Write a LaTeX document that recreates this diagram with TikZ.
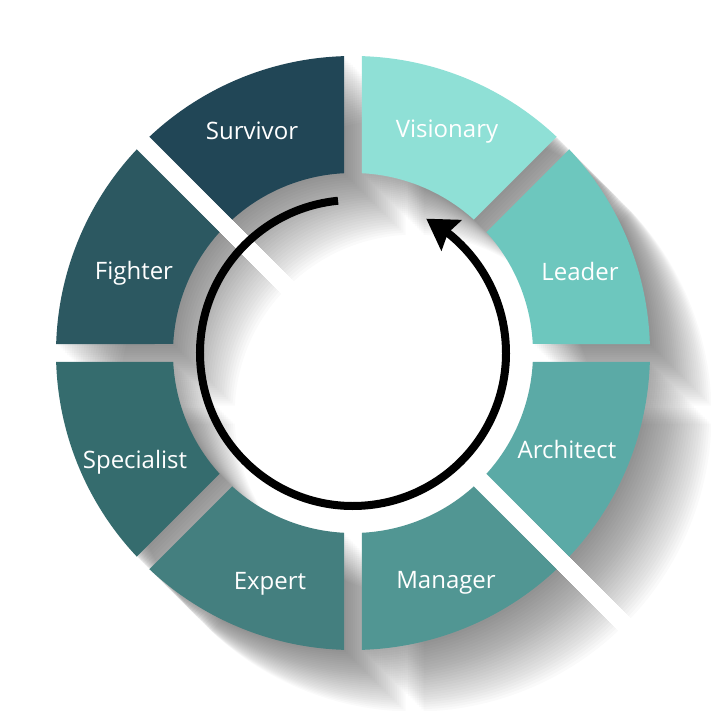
\documentclass[tikz,border=0pt]{standalone}
\usepackage{fontspec}
\setmainfont{Open Sans}
\usetikzlibrary{arrows.meta,bending}
\definecolor{cVis}{HTML}{8FE0D6}
\definecolor{cLea}{HTML}{6DC7BE}
\definecolor{cArc}{HTML}{5BAAA6}
\definecolor{cMan}{HTML}{519693}
\definecolor{cExp}{HTML}{447F7F}
\definecolor{cSpe}{HTML}{356C6E}
\definecolor{cFig}{HTML}{2C5861}
\definecolor{cSur}{HTML}{214656}
\newcommand\ringseg[2]{%
  \fill[#2] ({#1+1.736}:297) arc[start angle={#1+1.736}, end angle={#1+45-1.736}, radius=297]
    -- ({#1+45-2.866}:180) arc[start angle={#1+45-2.866}, end angle={#1+2.866}, radius=180] -- cycle;}
\tikzset{
  lbl/.style={text=white, font=\fontsize{24}{28}\selectfont, anchor=base, inner sep=0pt},
  cyclearrow/.style={line width=8pt, draw=black, -{Stealth[length=30pt,width=36pt,inset=4pt,flex]}}
}
\begin{document}
\begin{tikzpicture}[x=1pt,y=1pt]
\useasboundingbox (-353,-358) rectangle (358,353);
% long shadows
\foreach \k in {1,...,28}{
  \foreach \a in {-90,-45,...,225}{
    \ringseg{\a}{black,fill opacity=0.018,shift={(\k*2.2,-\k*2.2)}}
  }
}
% segments
\ringseg{45}{cVis}
\ringseg{0}{cLea}
\ringseg{-45}{cArc}
\ringseg{-90}{cMan}
\ringseg{225}{cExp}
\ringseg{180}{cSpe}
\ringseg{135}{cFig}
\ringseg{90}{cSur}
% labels
\node[lbl] (survivor) at (-101,213) {Survivor};
\node[lbl] (visionary) at (94,215) {Visionary};
\node[lbl] (fighter) at (-219,73) {Fighter};
\node[lbl] (leader) at (227,72) {Leader};
\node[lbl] (specialist) at (-218,-116) {Specialist};
\node[lbl] (architect) at (214,-106) {Architect};
\node[lbl] (expert) at (-83,-236) {Expert};
\node[lbl] (manager) at (93,-235) {Manager};
% cycle arrow
\draw[cyclearrow] (95.6:153) arc[start angle=95.6, end angle=421.4, radius=153];
\end{tikzpicture}
\end{document}
